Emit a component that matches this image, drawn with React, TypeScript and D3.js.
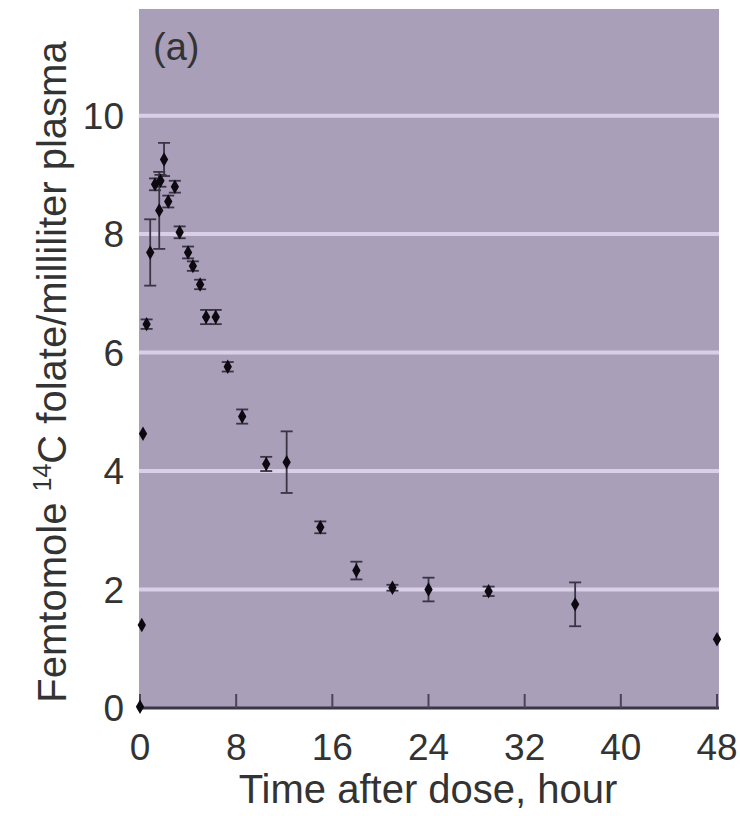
import React from 'react';
import * as d3 from 'd3';

// hours after dose
const hours = [0, 0.15, 0.25, 0.55, 0.85, 1.25, 1.6, 1.7, 2.0, 2.35, 2.9, 3.3, 4.0, 4.4, 5.0, 5.5, 6.3, 7.3, 8.5, 10.5, 12.2, 15, 18, 21, 24, 29, 36.2, 48];
// femtomole 14C folate / ml plasma
const values = [0.02, 1.4, 4.63, 6.48, 7.69, 8.84, 8.4, 8.9, 9.26, 8.55, 8.8, 8.03, 7.69, 7.46, 7.15, 6.6, 6.6, 5.76, 4.92, 4.12, 4.15, 3.05, 2.32, 2.03, 2.0, 1.97, 1.75, 1.16];
// +/- error
const errors = [0, 0, 0, 0.08, 0.56, 0.1, 0.65, 0.1, 0.28, 0.1, 0.1, 0.1, 0.1, 0.08, 0.08, 0.12, 0.12, 0.08, 0.12, 0.12, 0.52, 0.1, 0.15, 0.05, 0.2, 0.08, 0.37, 0];

const xTicks = [0, 8, 16, 24, 32, 40, 48];
const yTicks = [0, 2, 4, 6, 8, 10];

const App = () => {
  const width = 740;
  const height = 816;
  const left = 139;
  const right = 719;
  const top = 9;
  const bottom = 708;

  const x = d3.scaleLinear().domain([0, 48]).range([140, 717]);
  const y = d3.scaleLinear().domain([0, 11.8]).range([bottom, top]);
  const diamond = d3.symbol().type(d3.symbolDiamond).size(60)();
  const font = 'Liberation Sans, Arial, sans-serif';

  return (
    <svg width={width} height={height} style={{ position: 'absolute', left: 0, top: 0, background: '#fff' }}>
      <rect x={left} y={top} width={right - left} height={bottom - top} fill="#a99fb9" />
      {yTicks.filter(t => t > 0).map(t => (
        <line key={t} x1={left} x2={right} y1={y(t)} y2={y(t)} stroke="#d9d0e8" strokeWidth={4} />
      ))}
      {/* x axis */}
      <line x1={left} x2={right} y1={bottom} y2={bottom} stroke="#3b3548" strokeWidth={3} />
      {xTicks.map(t => (
        <line key={t} x1={x(t)} x2={x(t)} y1={bottom} y2={bottom - 14} stroke="#4a4458" strokeWidth={2} />
      ))}
      {xTicks.map(t => (
        <text key={t} x={x(t)} y={bottom + 52} textAnchor="middle" fontFamily={font} fontSize={37} fill="#333">{t}</text>
      ))}
      {yTicks.map(t => (
        <text key={t} x={124} y={y(t) + 13} textAnchor="end" fontFamily={font} fontSize={37} fill="#333">{t}</text>
      ))}
      <text x={428} y={803} textAnchor="middle" fontFamily={font} fontSize={40} fill="#333">Time after dose, hour</text>
      <text transform={`translate(66, ${372}) rotate(-90)`} textAnchor="middle" fontFamily={font} fontSize={40} fill="#333">
        Femtomole <tspan fontSize={25} dy={-15}>14</tspan><tspan dy={15}>C folate/milliliter plasma</tspan>
      </text>
      <text x={153} y={60} fontFamily={font} fontSize={38} fill="#333">(a)</text>
      {/* error bars */}
      {hours.map((h, i) => errors[i] > 0 && (
        <g key={'e' + i} stroke="#3a3444" strokeWidth={1.8}>
          <line x1={x(h)} x2={x(h)} y1={y(values[i] - errors[i])} y2={y(values[i] + errors[i])} />
          <line x1={x(h) - 6} x2={x(h) + 6} y1={y(values[i] - errors[i])} y2={y(values[i] - errors[i])} />
          <line x1={x(h) - 6} x2={x(h) + 6} y1={y(values[i] + errors[i])} y2={y(values[i] + errors[i])} />
        </g>
      ))}
      {hours.map((h, i) => (
        <path key={'p' + i} d={diamond!} transform={`translate(${x(h)},${y(values[i])})`} fill="#0c0a10" />
      ))}
    </svg>
  );
};

export default App;
